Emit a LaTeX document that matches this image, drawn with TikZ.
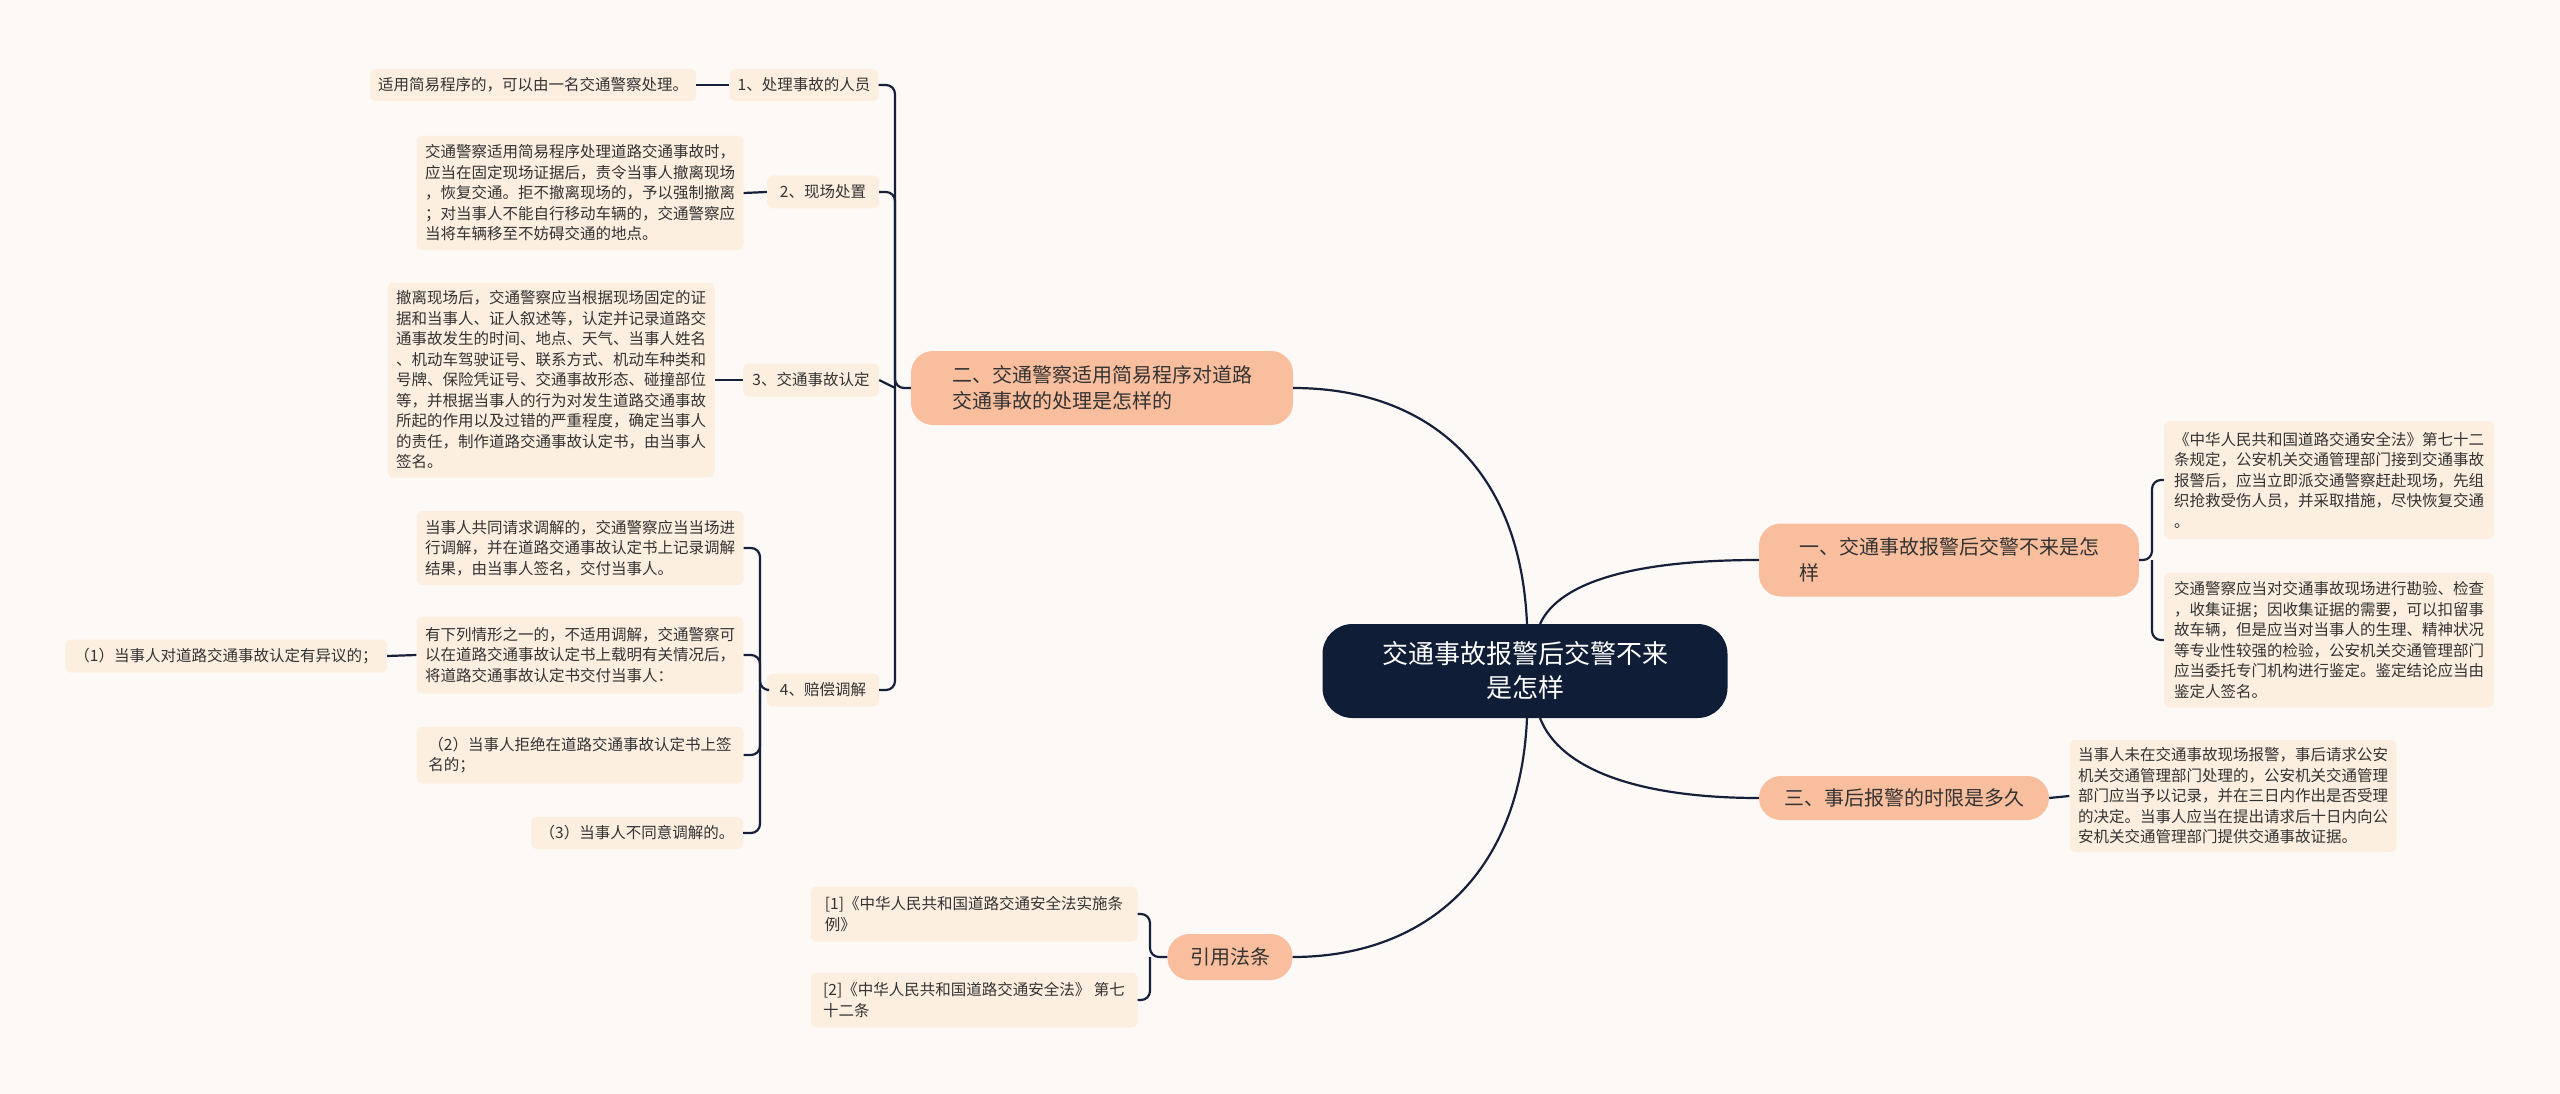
\documentclass[tikz,border=0pt]{standalone}
\usepackage{fontspec}
\setmainfont{Noto Sans CJK SC}
\begin{document}
\begin{tikzpicture}[x=1pt,y=-1pt,
 leaf/.style={fill=leaffill,rounded corners=6pt,inner xsep=8pt,inner ysep=6pt,align=left,font=\fontsize{15.5}{20.5}\selectfont,text=txt},
 mainn/.style={fill=peach,rounded corners=22pt,inner xsep=22pt,inner ysep=10pt,align=left,font=\fontsize{20}{26}\selectfont,text=txt},
 ln/.style={draw=linec,line width=2.2pt,rounded corners=9pt},
 cv/.style={draw=linec,line width=2.2pt}]
\definecolor{bg}{HTML}{FDF9F6}
\definecolor{leaffill}{HTML}{FDEFE0}
\definecolor{peach}{HTML}{F9BE9D}
\definecolor{navy}{HTML}{0F1D36}
\definecolor{linec}{HTML}{17203A}
\definecolor{txt}{HTML}{333333}
\fill[bg] (0,0) rectangle (2560,1094);
\useasboundingbox (0,0) rectangle (2560,1094);
% center
\node[fill=navy,rounded corners=30pt,text=white,align=center,minimum width=405pt,minimum height=94pt,font=\fontsize{26}{34}\selectfont] (c) at (1525,671) {交通事故报警后交警不来\\是怎样};
% main branches
\node[mainn,minimum width=380pt,minimum height=73pt] (m1) at (1949,560) {一、交通事故报警后交警不来是怎\\样};
\node[mainn,minimum width=290pt,minimum height=44pt] (m3) at (1904,798) {三、事后报警的时限是多久};
\node[mainn,minimum width=382pt,minimum height=74pt] (m2) at (1102,388) {二、交通警察适用简易程序对道路\\交通事故的处理是怎样的};
\node[mainn,minimum width=125pt,minimum height=46pt,align=center,inner xsep=10pt] (m4) at (1230,957) {引用法条};
\draw[cv] (1540,624) .. controls (1560,580) and (1640,560) .. (m1.west);
\draw[cv] (1540,718) .. controls (1560,770) and (1640,798) .. (m3.west);
\draw[cv] (1527,624) .. controls (1520,460) and (1420,388) .. (m2.east);
\draw[cv] (1527,718) .. controls (1520,880) and (1420,957) .. (m4.east);
% right leaves
\node[leaf,minimum width=330pt,minimum height=118pt] (r1) at (2329,480) {《中华人民共和国道路交通安全法》第七十二\\条规定，公安机关交通管理部门接到交通事故\\报警后，应当立即派交通警察赶赴现场，先组\\织抢救受伤人员，并采取措施，尽快恢复交通\\。};
\node[leaf,minimum width=330pt,minimum height=135pt] (r2) at (2329,640) {交通警察应当对交通事故现场进行勘验、检查\\，收集证据；因收集证据的需要，可以扣留事\\故车辆，但是应当对当事人的生理、精神状况\\等专业性较强的检验，公安机关交通管理部门\\应当委托专门机构进行鉴定。鉴定结论应当由\\鉴定人签名。};
\node[leaf,minimum width=327pt,minimum height=112pt] (r3) at (2233,796) {当事人未在交通事故现场报警，事后请求公安\\机关交通管理部门处理的，公安机关交通管理\\部门应当予以记录，并在三日内作出是否受理\\的决定。当事人应当在提出请求后十日内向公\\安机关交通管理部门提供交通事故证据。};
\draw[ln] (m1.east) -- (2152,560) -- (2152,480) -- (r1.west);
\draw[ln] (2152,560) -- (2152,640) -- (r2.west);
\draw[ln] (m3.east) -- (r3.west);
% branch 2 children
\node[leaf,minimum width=149pt,minimum height=32pt] (s1) at (804,85) {1、处理事故的人员};
\node[leaf,minimum width=112pt,minimum height=33pt] (s2) at (823,192) {2、现场处置};
\node[leaf,minimum width=136pt,minimum height=33pt] (s3) at (811,380) {3、交通事故认定};
\node[leaf,minimum width=112pt,minimum height=33pt] (s4) at (823,690) {4、赔偿调解};
\draw[ln] (m2.west) -- (895,388) -- (895,85) -- (s1.east);
\draw[ln] (895,388) -- (895,192) -- (s2.east);
\draw[ln] (895,388) -- (s3.east);
\draw[ln] (895,388) -- (895,690) -- (s4.east);
\node[leaf,minimum width=322pt,minimum height=32pt] (l1) at (533,85) {适用简易程序的，可以由一名交通警察处理。};
\node[leaf,minimum width=327pt,minimum height=114pt] (l2) at (580,193) {交通警察适用简易程序处理道路交通事故时，\\应当在固定现场证据后，责令当事人撤离现场\\，恢复交通。拒不撤离现场的，予以强制撤离\\；对当事人不能自行移动车辆的，交通警察应\\当将车辆移至不妨碍交通的地点。};
\node[leaf,minimum width=327pt,minimum height=195pt] (l3) at (551,380) {撤离现场后，交通警察应当根据现场固定的证\\据和当事人、证人叙述等，认定并记录道路交\\通事故发生的时间、地点、天气、当事人姓名\\、机动车驾驶证号、联系方式、机动车种类和\\号牌、保险凭证号、交通事故形态、碰撞部位\\等，并根据当事人的行为对发生道路交通事故\\所起的作用以及过错的严重程度，确定当事人\\的责任，制作道路交通事故认定书，由当事人\\签名。};
\draw[ln] (s1.west) -- (l1.east);
\draw[ln] (s2.west) -- (l2.east);
\draw[ln] (s3.west) -- (l3.east);
\node[leaf,minimum width=327pt,minimum height=74pt] (a1) at (580,548) {当事人共同请求调解的，交通警察应当当场进\\行调解，并在道路交通事故认定书上记录调解\\结果，由当事人签名，交付当事人。};
\node[leaf,minimum width=327pt,minimum height=77pt] (a2) at (580,655) {有下列情形之一的，不适用调解，交通警察可\\以在道路交通事故认定书上载明有关情况后，\\将道路交通事故认定书交付当事人：};
\node[leaf,minimum width=327pt,minimum height=57pt] (a3) at (580,755) {（2）当事人拒绝在道路交通事故认定书上签\\名的；};
\node[leaf,minimum width=212pt,minimum height=32pt] (a4) at (637,833) {（3）当事人不同意调解的。};
\draw[ln] (s4.west) -- (760,690) -- (760,548) -- (a1.east);
\draw[ln] (760,690) -- (760,655) -- (a2.east);
\draw[ln] (760,690) -- (760,755) -- (a3.east);
\draw[ln] (760,690) -- (760,833) -- (a4.east);
\node[leaf,minimum width=322pt,minimum height=33pt] (b1) at (226,656) {（1）当事人对道路交通事故认定有异议的；};
\draw[ln] (a2.west) -- (b1.east);
% citations
\node[leaf,minimum width=327pt,minimum height=55pt] (c1) at (974,914) {[1]《中华人民共和国道路交通安全法实施条\\例》};
\node[leaf,minimum width=327pt,minimum height=55pt] (c2) at (974,1000) {[2]《中华人民共和国道路交通安全法》 第七\\十二条};
\draw[ln] (m4.west) -- (1150,957) -- (1150,914) -- (c1.east);
\draw[ln] (1150,957) -- (1150,1000) -- (c2.east);
\end{tikzpicture}
\end{document}
